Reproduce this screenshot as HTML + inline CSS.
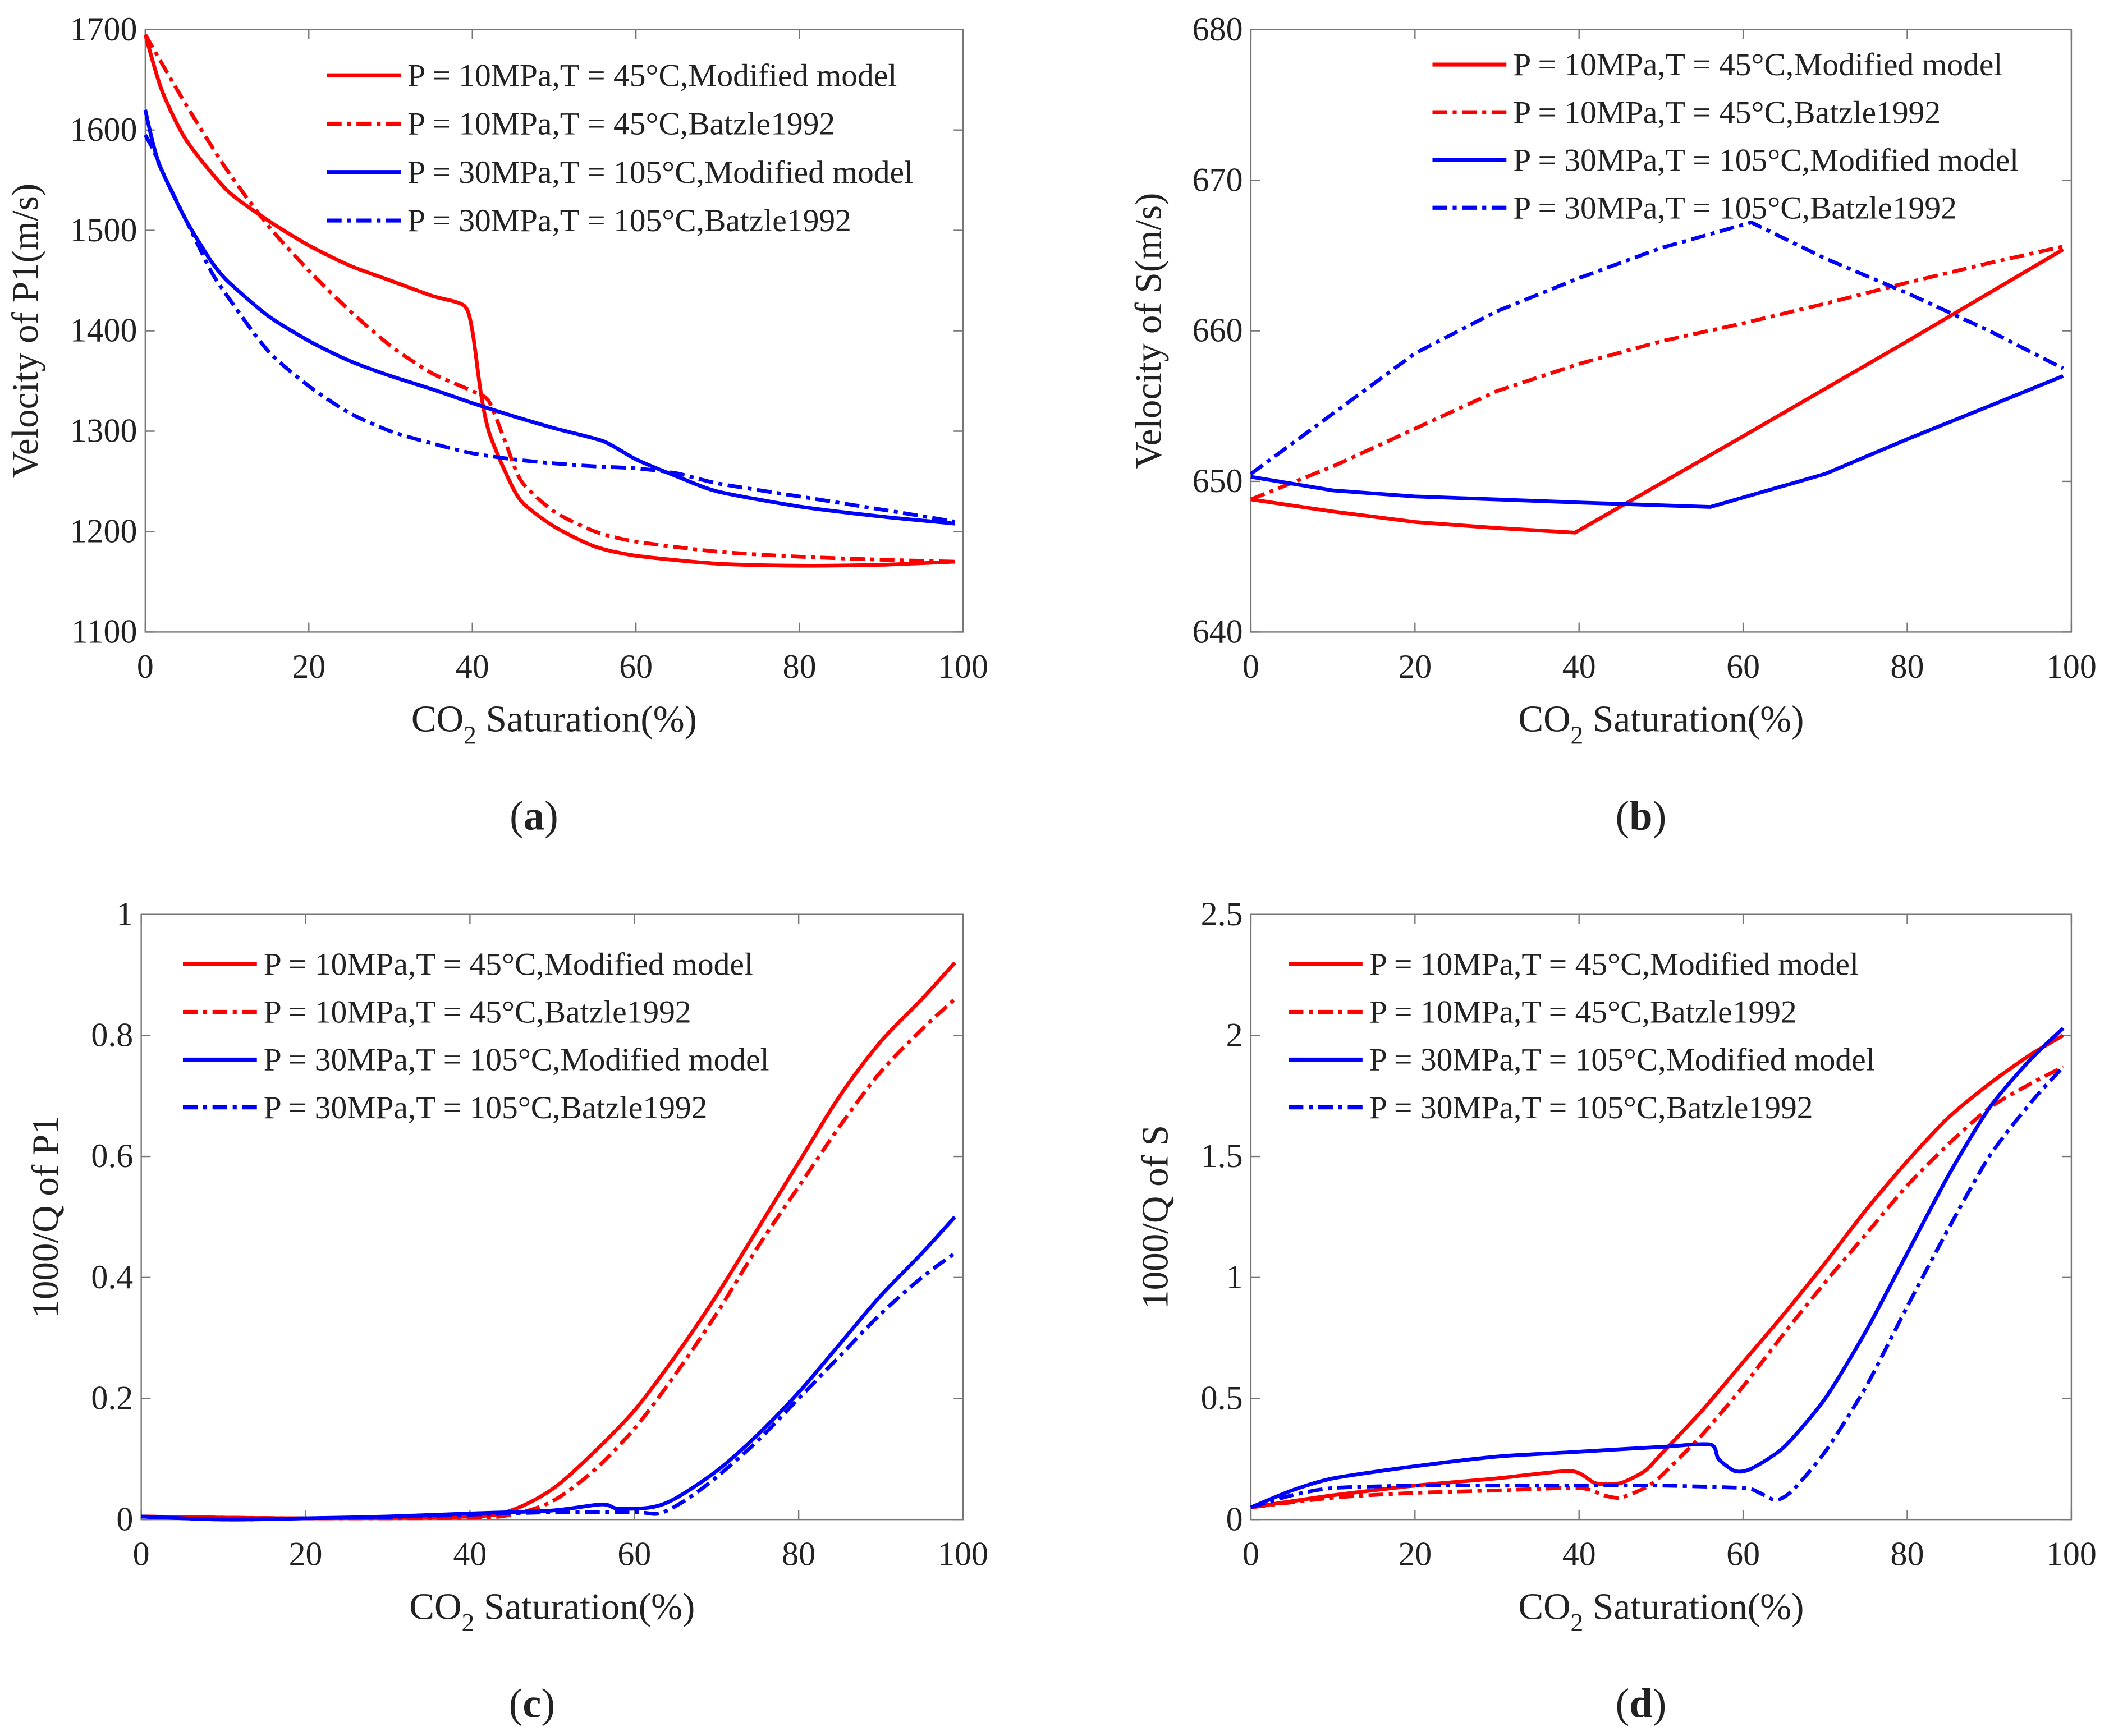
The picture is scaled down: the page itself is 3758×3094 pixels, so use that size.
<!DOCTYPE html>
<html><head><meta charset="utf-8"><style>
html,body{margin:0;padding:0;background:#fff}
svg{display:block}
text{font-family:"Liberation Serif","DejaVu Serif",serif;fill:#222}
</style></head><body>
<svg id="fig" width="3758" height="3094" viewBox="0 0 1568 1291" preserveAspectRatio="none" xmlns="http://www.w3.org/2000/svg" font-family="Liberation Serif, serif"></svg>
<script>
const xTicks=[0,20,40,60,80,100];
const aTicks=[1100,1200,1300,1400,1500,1600,1700];
const bTicks=[640,650,660,670,680];
const cTicks=[0,0.2,0.4,0.6,0.8,1];
const cTickLabels=["0","0.2","0.4","0.6","0.8","1"];
const dTicks=[0,0.5,1,1.5,2,2.5];
const dTickLabels=["0","0.5","1","1.5","2","2.5"];
const legendLabels=["P = 10MPa,T = 45°C,Modified model","P = 10MPa,T = 45°C,Batzle1992","P = 30MPa,T = 105°C,Modified model","P = 30MPa,T = 105°C,Batzle1992"];

const aRedModX=[0,2,5,10,15,20,25,30,35,39,40,41,42,44,46,50,55,60,70,80,90,99];
const aRedModY=[1695,1640,1590,1540,1510,1485,1465,1450,1435,1425,1400,1340,1300,1260,1230,1205,1185,1176,1168,1166,1167,1170];
const aRedBatX=[0,5,10,15,20,25,30,35,40,42,44,46,50,55,60,70,80,90,99];
const aRedBatY=[1695,1625,1560,1505,1460,1420,1385,1358,1340,1330,1290,1250,1220,1200,1190,1180,1175,1172,1170];
const aBlueModX=[0,1,2,5,8,10,15,20,25,30,35,40,45,50,56,60,65,70,80,90,99];
const aBlueModY=[1620,1585,1560,1510,1470,1450,1415,1390,1370,1355,1342,1328,1315,1303,1290,1272,1255,1240,1225,1215,1208];
const aBlueBatX=[0,1,2,5,8,10,15,20,25,30,35,40,45,50,55,60,65,70,80,90,99];
const aBlueBatY=[1595,1580,1560,1510,1460,1435,1380,1345,1318,1300,1288,1278,1272,1268,1265,1263,1258,1248,1235,1222,1210];

const bRedModX=[0,10,20,30,39.5,60,80,99];
const bRedModY=[648.8,648,647.3,646.9,646.6,653,659.3,665.4];
const bRedBatX=[0,10,20,30,40,50,60,70,80,90,99];
const bRedBatY=[648.8,651,653.5,656,657.8,659.3,660.5,661.8,663.2,664.5,665.6];
const bBlueModX=[0,10,20,30,40,56,70,80,90,99];
const bBlueModY=[650.3,649.4,649,648.8,648.6,648.3,650.5,652.8,655,657];
const bBlueBatX=[0,10,20,30,40,50,61,70,80,90,99];
const bBlueBatY=[650.5,654.5,658.5,661.3,663.5,665.5,667.2,664.8,662.5,660,657.5];

const cRedModX=[0,20,40,45,50,55,60,65,70,75,80,85,90,95,99];
const cRedModY=[0.005,0.002,0.005,0.015,0.05,0.11,0.18,0.27,0.37,0.48,0.59,0.7,0.79,0.86,0.92];
const cRedBatX=[0,20,40,45,50,55,60,65,70,75,80,85,90,95,99];
const cRedBatY=[0.005,0.002,0.003,0.008,0.03,0.08,0.15,0.24,0.34,0.45,0.55,0.65,0.74,0.81,0.86];
const cBlueModX=[0,10,20,30,40,50,56,58,62,65,70,75,80,85,90,95,99];
const cBlueModY=[0.005,0,0.002,0.005,0.01,0.015,0.025,0.018,0.02,0.035,0.08,0.14,0.21,0.29,0.37,0.44,0.5];
const cBlueBatX=[0,10,20,30,40,50,60,63,66,70,75,80,85,90,95,99];
const cBlueBatY=[0.005,0,0.002,0.004,0.008,0.012,0.012,0.01,0.03,0.07,0.13,0.2,0.27,0.34,0.4,0.44];

const dRedModX=[0,10,20,30,39,42,45,48,50,55,60,65,70,75,80,85,90,95,99];
const dRedModY=[0.05,0.1,0.14,0.17,0.2,0.15,0.15,0.2,0.27,0.45,0.65,0.85,1.06,1.28,1.48,1.66,1.8,1.92,2.0];
const dRedBatX=[0,10,20,30,40,43,45,48,50,55,60,65,70,75,80,85,90,95,99];
const dRedBatY=[0.05,0.09,0.11,0.12,0.13,0.1,0.09,0.13,0.18,0.35,0.55,0.77,0.98,1.18,1.38,1.55,1.7,1.8,1.87];
const dBlueModX=[0,5,10,20,30,40,50,56,57,59,61,65,70,75,80,85,90,95,99];
const dBlueModY=[0.05,0.12,0.17,0.22,0.26,0.28,0.3,0.31,0.25,0.2,0.21,0.3,0.5,0.78,1.1,1.42,1.7,1.9,2.03];
const dBlueBatX=[0,5,10,20,30,40,50,60,62,64,66,70,75,80,85,90,95,99];
const dBlueBatY=[0.05,0.1,0.13,0.14,0.14,0.14,0.14,0.13,0.11,0.08,0.12,0.28,0.55,0.88,1.2,1.5,1.72,1.87];

const NS="http://www.w3.org/2000/svg";
const svg=document.getElementById('fig');
function el(tag,attrs,parent){const e=document.createElementNS(NS,tag);for(const k in attrs)e.setAttribute(k,attrs[k]);(parent||svg).appendChild(e);return e;}
const DASH="11 4 3 4";
const RED="#ff0000",BLUE="#0000ff";
const FONT="Liberation Serif, serif";

function smoothPath(P,t){
  let d='M'+P[0][0].toFixed(1)+','+P[0][1].toFixed(1);
  for(let i=0;i<P.length-1;i++){
    const p0=P[i>0?i-1:i],p1=P[i],p2=P[i+1],p3=P[i+2<P.length?i+2:i+1];
    const c1=[p1[0]+(p2[0]-p0[0])*t,p1[1]+(p2[1]-p0[1])*t];
    const c2=[p2[0]-(p3[0]-p1[0])*t,p2[1]-(p3[1]-p1[1])*t];
    d+=' C'+c1[0].toFixed(1)+','+c1[1].toFixed(1)+' '+c2[0].toFixed(1)+','+c2[1].toFixed(1)+' '+p2[0].toFixed(1)+','+p2[1].toFixed(1);
  }
  return d;
}

function panel(cfg){
  const g=el('g',{});
  
  
  const {x0,x1,y0,y1,ymin,ymax}=cfg;
  const sx=v=>x0+(v-0)/100*(x1-x0);
  const sy=v=>y1-(v-ymin)/(ymax-ymin)*(y1-y0);
  const box=el('rect',{x:x0,y:y0,width:x1-x0,height:y1-y0,fill:'none',stroke:'#777','stroke-width':1},g);
  
  
  xTicks.forEach(t=>{
    const X=sx(t);
    el('line',{x1:X,x2:X,y1:y1,y2:y1-7,stroke:'#777'},g);
    el('line',{x1:X,x2:X,y1:y0,y2:y0+7,stroke:'#777'},g);
    const tx=el('text',{x:X,y:y1+34,'text-anchor':'middle','font-size':25,'font-family':FONT,fill:'#333'},g);
    tx.textContent=t;
    
    
  });
  cfg.yt.forEach((t,i)=>{
    const Y=sy(t);
    el('line',{x1:x0,x2:x0+7,y1:Y,y2:Y,stroke:'#777'},g);
    el('line',{x1:x1,x2:x1-7,y1:Y,y2:Y,stroke:'#777'},g);
    const tx=el('text',{x:x0-6,y:Y+8,'text-anchor':'end','font-size':25,'font-family':FONT,fill:'#333'},g);
    tx.textContent=cfg.ytl?cfg.ytl[i]:t;
    
    
  });
  const xt=el('text',{x:(x0+x1)/2,y:y1+74,'text-anchor':'middle','font-size':28,'font-family':FONT,fill:'#333'},g);
  xt.innerHTML='CO<tspan dy="9" font-size="19">2</tspan><tspan dy="-9"> Saturation(%)</tspan>';
  
  
  const yt=el('text',{x:0,y:0,'text-anchor':'middle','font-size':28,'font-family':FONT,fill:'#333',transform:`translate(${cfg.ytx},${(y0+y1)/2}) rotate(-90)`},g);
  yt.textContent=cfg.ylabel;
  
  
  const sub=el('text',{x:(x0+x1)/2-15,y:y1+147,'text-anchor':'middle','font-size':31,'font-family':FONT,fill:'#111'},g);
  sub.innerHTML='(<tspan font-weight="bold">'+cfg.letter+'</tspan>)';
  
  
  const series=[[cfg.s[0],cfg.s[1],RED,null],[cfg.s[2],cfg.s[3],RED,DASH],[cfg.s[4],cfg.s[5],BLUE,null],[cfg.s[6],cfg.s[7],BLUE,DASH]];
  const names=['red-modified-line','red-batzle-line','blue-modified-line','blue-batzle-line'];
  series.forEach((s,i)=>{
    const P=s[0].map((x,j)=>[sx(x),sy(s[1][j])]);
    const a={d:smoothPath(P,cfg.tension),fill:'none',stroke:s[2],'stroke-width':2.8,'stroke-linejoin':'round'};
    if(s[3])a['stroke-dasharray']=s[3];
    const p=el('path',a,g);
    
    
  });
  legendLabels.forEach((lab,i)=>{
    const Y=cfg.ly+i*cfg.lstep;
    const a={x1:cfg.lx,x2:cfg.lx+55,y1:Y,y2:Y,stroke:i<2?RED:BLUE,'stroke-width':3};
    if(i%2)a['stroke-dasharray']=DASH;
    const ln=el('line',a,g);
    
    
    const tx=el('text',{x:cfg.lx+60,y:Y+8,'font-size':24,'font-family':FONT,fill:'#222'},g);
    tx.textContent=lab;
    
    
  });
}
panel({name:'panel-a',tension:0.12,x0:108,x1:716,y0:22,y1:470,ymin:1100,ymax:1700,yt:aTicks,ylabel:'Velocity of P1(m/s)',ytx:28,letter:'a',lx:243,ly:56,lstep:36,
  s:[aRedModX,aRedModY,aRedBatX,aRedBatY,aBlueModX,aBlueModY,aBlueBatX,aBlueBatY]});
panel({name:'panel-b',tension:0,x0:930,x1:1540,y0:22,y1:470,ymin:640,ymax:680,yt:bTicks,ylabel:'Velocity of S(m/s)',ytx:863,letter:'b',lx:1065,ly:48,lstep:35.5,
  s:[bRedModX,bRedModY,bRedBatX,bRedBatY,bBlueModX,bBlueModY,bBlueBatX,bBlueBatY]});
panel({name:'panel-c',tension:0.15,x0:105,x1:716,y0:680,y1:1130,ymin:0,ymax:1,yt:cTicks,ytl:cTickLabels,ylabel:'1000/Q of P1',ytx:43,letter:'c',lx:136,ly:717,lstep:35.5,
  s:[cRedModX,cRedModY,cRedBatX,cRedBatY,cBlueModX,cBlueModY,cBlueBatX,cBlueBatY]});
panel({name:'panel-d',tension:0.12,x0:930,x1:1540,y0:680,y1:1130,ymin:0,ymax:2.5,yt:dTicks,ytl:dTickLabels,ylabel:'1000/Q of S',ytx:868,letter:'d',lx:958,ly:717,lstep:35.5,
  s:[dRedModX,dRedModY,dRedBatX,dRedBatY,dBlueModX,dBlueModY,dBlueBatX,dBlueBatY]});
</script>
</body></html>
